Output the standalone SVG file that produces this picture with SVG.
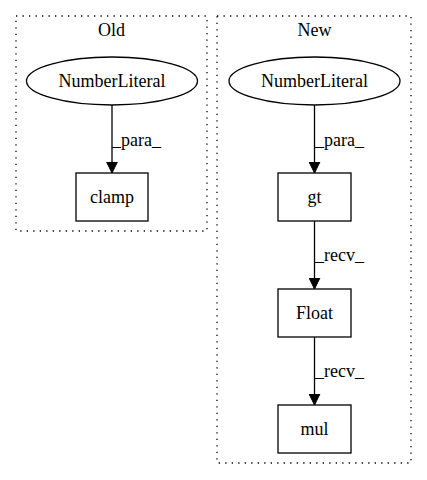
<svg xmlns="http://www.w3.org/2000/svg" width="427" height="480" viewBox="0 0 427 480">
<defs>
<marker id="arr" markerWidth="12" markerHeight="12" viewBox="0 0 12 12" refX="11" refY="6" orient="auto" markerUnits="userSpaceOnUse">
<path d="M0,0.6 L11,6 L0,11.4 Z" fill="#000" stroke="#000" stroke-width="1"/>
</marker>
<style>
.cl{fill:none;stroke:#000;stroke-width:1.3;stroke-dasharray:1.3,5.2}
.n{fill:none;stroke:#000;stroke-width:1.3}
.t{font-family:"Liberation Serif","Times New Roman",serif;font-size:18px;fill:#000;text-anchor:middle}
.l{font-family:"Liberation Serif","Times New Roman",serif;font-size:18px;fill:#000}
.e{stroke:#000;stroke-width:1.3;fill:none;marker-end:url(#arr)}
</style>
</defs>
<rect width="427" height="480" fill="#fff"/>
<g id="cluster_old">
<rect class="cl" x="16" y="16" width="191" height="215"/>
<text class="t" x="111.5" y="36">Old</text>
</g>
<g id="cluster_new">
<rect class="cl" x="217" y="16" width="194" height="447"/>
<text class="t" x="314.5" y="36">New</text>
</g>
<g id="old_numlit">
<ellipse class="n" cx="112" cy="81" rx="85.5" ry="24"/>
<text class="t" x="112" y="87">NumberLiteral</text>
</g>
<g id="old_clamp">
<rect class="n" x="76" y="173" width="72" height="48"/>
<text class="t" x="112" y="203">clamp</text>
</g>
<g id="new_numlit">
<ellipse class="n" cx="314.5" cy="81" rx="85.5" ry="24"/>
<text class="t" x="314.5" y="87">NumberLiteral</text>
</g>
<g id="new_gt">
<rect class="n" x="278" y="173" width="73" height="48"/>
<text class="t" x="314.5" y="203">gt</text>
</g>
<g id="new_float">
<rect class="n" x="278" y="289" width="73" height="48"/>
<text class="t" x="314.5" y="319">Float</text>
</g>
<g id="new_mul">
<rect class="n" x="278" y="405" width="73" height="48"/>
<text class="t" x="314.5" y="435">mul</text>
</g>
<g id="edges">
<line class="e" x1="112" y1="105" x2="112" y2="173"/>
<text class="l" x="112" y="146">_para_</text>
<line class="e" x1="314.5" y1="105" x2="314.5" y2="173"/>
<text class="l" x="315" y="146">_para_</text>
<line class="e" x1="314.5" y1="221" x2="314.5" y2="289"/>
<text class="l" x="315" y="261">_recv_</text>
<line class="e" x1="314.5" y1="337" x2="314.5" y2="405"/>
<text class="l" x="315" y="377">_recv_</text>
</g>
</svg>
